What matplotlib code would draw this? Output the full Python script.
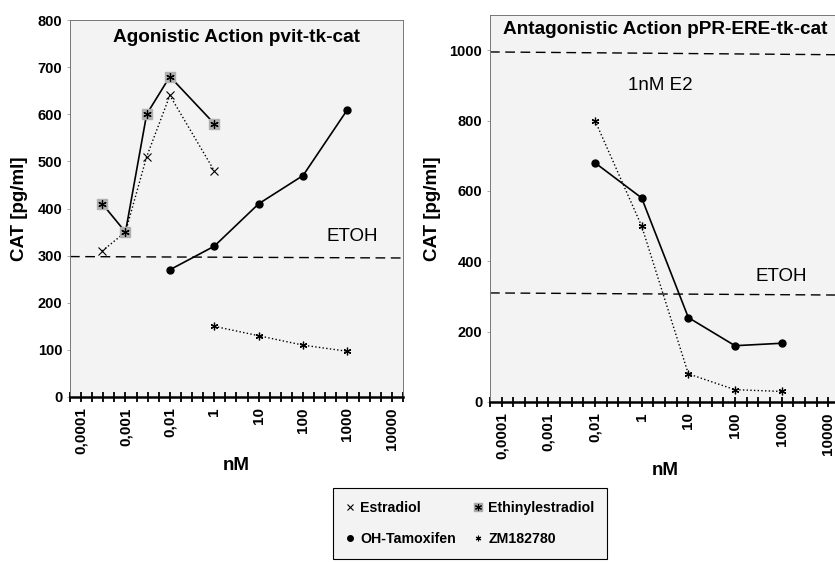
import numpy as np
import matplotlib.pyplot as plt
from matplotlib.legend_handler import HandlerTuple
from matplotlib.lines import Line2D

plt.rcParams['font.family'] = ['Liberation Sans', 'DejaVu Sans']

# x axis is a category-like concentration axis (no 0,1 label)
tick_vals = [1e-4, 1e-3, 1e-2, 1, 10, 100, 1000, 1e4]
tick_labels = ['0,0001', '0,001', '0,01', '1', '10', '100', '1000', '10000']

# left panel: agonistic action pvit-tk-cat
estr_conc = [3e-4, 1e-3, 3e-3, 1e-2, 1]
estr_cat = [310, 350, 510, 640, 480]
ethi_conc = [3e-4, 1e-3, 3e-3, 1e-2, 1]
ethi_cat = [410, 350, 600, 680, 580]
tamo_conc_l = [1e-2, 1, 10, 100, 1000]
tamo_cat_l = [270, 320, 410, 470, 610]
zm_conc_l = [1, 10, 100, 1000]
zm_cat_l = [150, 130, 110, 97]
etoh_l = [298, 295]

# right panel: antagonistic action pPR-ERE-tk-cat
tamo_conc_r = [1e-2, 1, 10, 100, 1000]
tamo_cat_r = [680, 580, 240, 160, 167]
zm_conc_r = [1e-2, 1, 10, 100, 1000]
zm_cat_r = [800, 500, 80, 35, 30]
etoh_r = [310, 304]
e2_r = [995, 987]

BG = '#f3f3f3'
ZM_MARK = (6, 2, 0)


def pos(c):
    return np.interp(np.log10(c), np.log10(tick_vals), np.arange(len(tick_vals)))


def style_axes(ax, ymax, ystep, ylabelpad):
    ax.set_facecolor(BG)
    ax.set_xlim(-0.25, 7.25)
    ax.set_ylim(0, ymax)
    ax.set_xticks(range(len(tick_vals)))
    ax.set_xticklabels(tick_labels, rotation=90, fontweight='bold', fontsize=11)
    ax.set_xticks(np.arange(-0.25, 7.26, 0.25), minor=True)
    ax.tick_params(axis='x', which='both', direction='inout', length=7, width=1.3, pad=4)
    ax.set_yticks(np.arange(0, ymax + 1, ystep))
    ax.tick_params(axis='y', length=2, width=0.5, color='#888888', labelsize=10.5)
    for t in ax.get_yticklabels():
        t.set_fontweight('bold')
    ax.spines['bottom'].set_linewidth(1.8)
    for s in ['top', 'right', 'left']:
        ax.spines[s].set_linewidth(0.7)
        ax.spines[s].set_color('#777777')
    ax.set_xlabel('nM', fontweight='bold', fontsize=13.5, labelpad=2)
    ax.set_ylabel('CAT [pg/ml]', fontweight='bold', fontsize=13.5, labelpad=ylabelpad)


fig = plt.figure(figsize=(8.35, 5.62), dpi=100)
ax1 = fig.add_axes([0.0838, 0.2936, 0.3988, 0.6708])
ax2 = fig.add_axes([0.5868, 0.2847, 0.4192, 0.6886])

# left
style_axes(ax1, 800, 100, 7)
ax1.plot([-0.25, 7.25], etoh_l, color='black', lw=1, dashes=(7, 4))
ax1.plot(pos(estr_conc), estr_cat, color='black', lw=1, ls=':', marker='x', ms=6, mew=0.8)
ax1.plot(pos(ethi_conc), ethi_cat, color='black', lw=1.2, marker='s', ms=7.5,
         mfc='#b0b0b0', mec='#b0b0b0')
ax1.plot(pos(ethi_conc), ethi_cat, ls='none', marker=ZM_MARK, ms=6, color='black', mew=0.9)
ax1.plot(pos(tamo_conc_l), tamo_cat_l, color='black', lw=1.2, marker='o', ms=5)
ax1.plot(pos(zm_conc_l), zm_cat_l, color='black', lw=1, ls=':', marker=ZM_MARK, ms=5.5, mew=0.9)
ax1.text(0.5, 0.975, 'Agonistic Action pvit-tk-cat', transform=ax1.transAxes,
         ha='center', va='top', fontsize=13.7, fontweight='bold')
ax1.text(6.1, 340, 'ETOH', ha='center', va='center', fontsize=13.5)

# right
style_axes(ax2, 1100, 200, 6)
ax2.plot([-0.25, 7.25], e2_r, color='black', lw=1, dashes=(7, 4))
ax2.plot([-0.25, 7.25], etoh_r, color='black', lw=1, dashes=(7, 4))
ax2.plot(pos(tamo_conc_r), tamo_cat_r, color='black', lw=1.2, marker='o', ms=5)
ax2.plot(pos(zm_conc_r), zm_cat_r, color='black', lw=1, ls=':', marker=ZM_MARK, ms=5.5, mew=0.9)
ax2.text(0.5, 0.985, 'Antagonistic Action pPR-ERE-tk-cat', transform=ax2.transAxes,
         ha='center', va='top', fontsize=13.7, fontweight='bold')
ax2.text(3.4, 900, '1nM E2', ha='center', va='center', fontsize=13.5)
ax2.text(6.0, 358, 'ETOH', ha='center', va='center', fontsize=13.5)

# legend
h_estr = Line2D([], [], ls='none', marker='x', ms=5, color='black', mew=0.8)
h_tamo = Line2D([], [], ls='none', marker='o', ms=4, color='black')
h_ethi = (Line2D([], [], ls='none', marker='s', ms=6, mfc='#a8a8a8', mec='#a8a8a8'),
          Line2D([], [], ls='none', marker=ZM_MARK, ms=5, color='black', mew=0.8))
h_zm = Line2D([], [], ls='none', marker=ZM_MARK, ms=4, color='black', mew=0.8)
leg = fig.legend([h_estr, h_tamo, h_ethi, h_zm],
                 ['Estradiol', 'OH-Tamoxifen', 'Ethinylestradiol', 'ZM182780'],
                 ncol=2, loc='upper left', bbox_to_anchor=(0.399, 0.132),
                 borderaxespad=0,
                 handler_map={tuple: HandlerTuple(ndivide=1, pad=0)},
                 prop={'weight': 'bold', 'size': 10.2}, fancybox=False,
                 edgecolor='black', facecolor=BG, framealpha=1,
                 handlelength=0.6, handletextpad=0.4, columnspacing=1.3,
                 labelspacing=1.25, borderpad=0.9)
leg.get_frame().set_linewidth(0.8)

fig.savefig('out.png', dpi=100)
